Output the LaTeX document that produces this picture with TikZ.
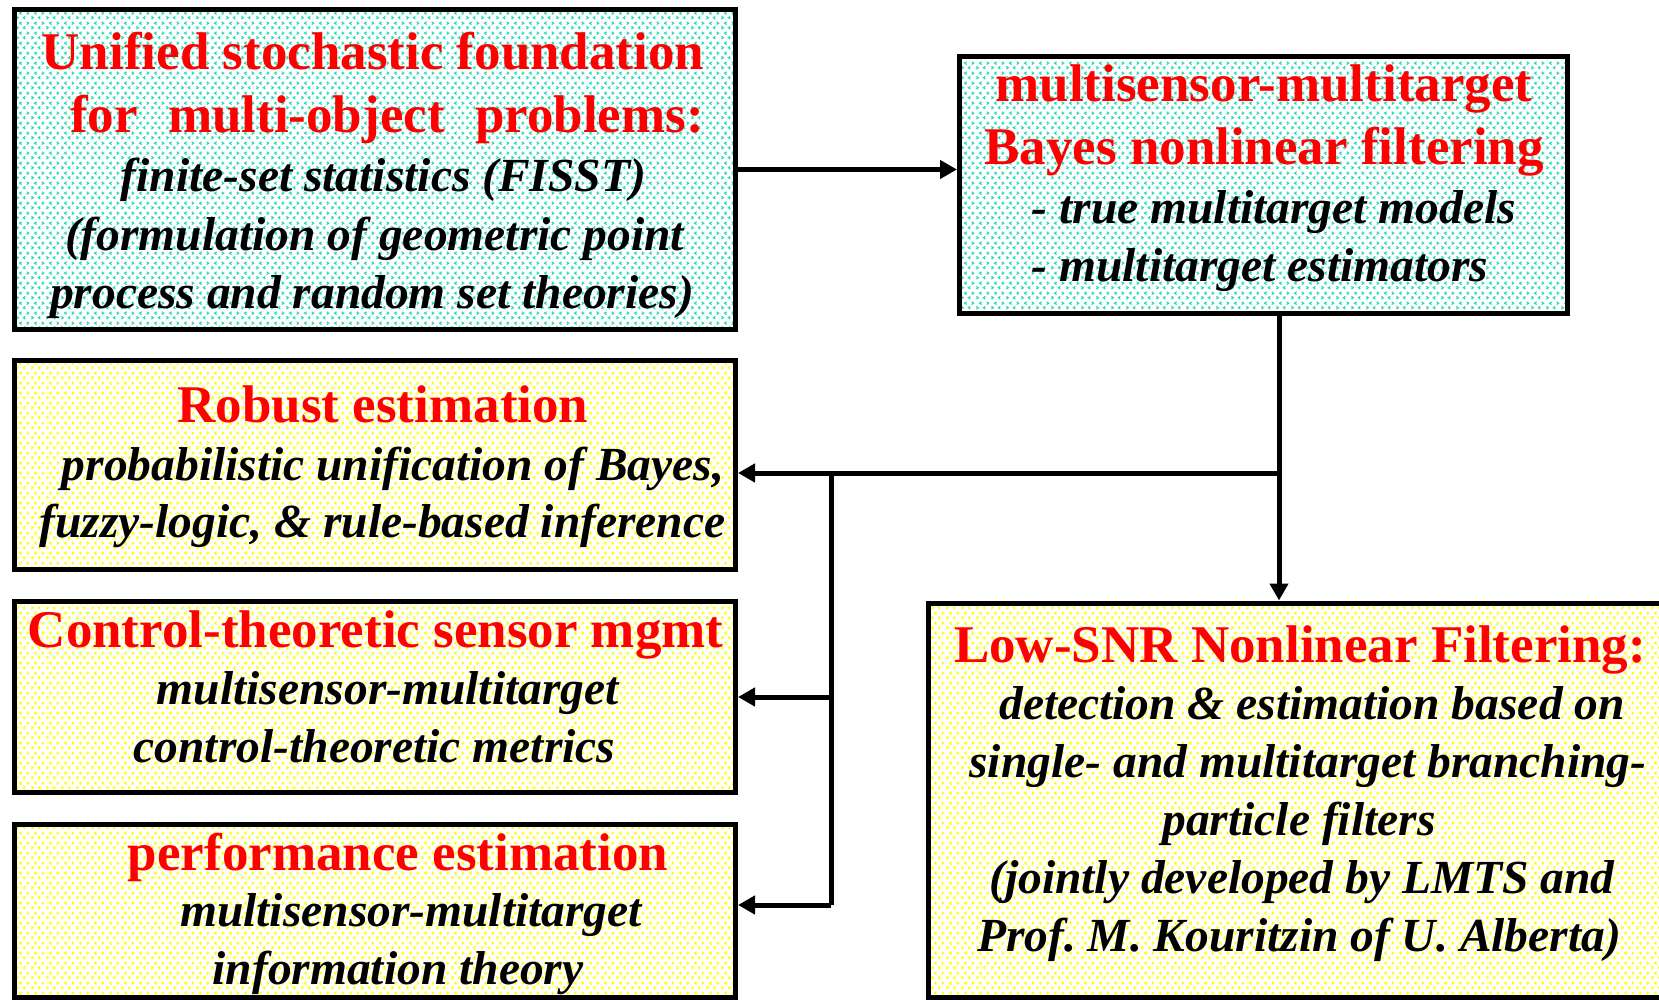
\documentclass[tikz,border=0pt]{standalone}
\usepackage{fontspec}
\setmainfont{Liberation Serif}
\usetikzlibrary{arrows.meta,patterns}

% fine texture of small chevrons used inside the boxes
\pgfdeclarepatternformonly{chevrons}{\pgfqpoint{0pt}{0pt}}{\pgfqpoint{15pt}{10pt}}{\pgfqpoint{15pt}{10pt}}{%
  \pgfsetlinewidth{1.3pt}%
  \pgfpathmoveto{\pgfqpoint{1.5pt}{1pt}}\pgfpathlineto{\pgfqpoint{3.5pt}{2.5pt}}\pgfpathlineto{\pgfqpoint{1.5pt}{4pt}}%
  \pgfpathmoveto{\pgfqpoint{11pt}{1pt}}\pgfpathlineto{\pgfqpoint{9pt}{2.5pt}}\pgfpathlineto{\pgfqpoint{11pt}{4pt}}%
  \pgfpathmoveto{\pgfqpoint{7pt}{6pt}}\pgfpathlineto{\pgfqpoint{5pt}{7.5pt}}\pgfpathlineto{\pgfqpoint{7pt}{9pt}}%
  \pgfpathmoveto{\pgfqpoint{12.5pt}{6pt}}\pgfpathlineto{\pgfqpoint{14.5pt}{7.5pt}}\pgfpathlineto{\pgfqpoint{12.5pt}{9pt}}%
  \pgfusepath{stroke}}

\definecolor{headred}{RGB}{255,0,0}
\definecolor{mintmark}{RGB}{40,220,185}
\definecolor{yellowmark}{RGB}{255,255,0}

\begin{document}
\frenchspacing
\begin{tikzpicture}[x=1pt,y=-1pt,
  box/.style={draw=black, line width=5pt, rectangle, inner sep=0pt, pattern=chevrons},
  cyanbox/.style={box, pattern color=mintmark},
  yellowbox/.style={box, pattern color=yellowmark},
  head/.style={anchor=base, inner sep=0pt, text=headred, font=\fontsize{53}{53}\selectfont\bfseries},
  body/.style={anchor=base, inner sep=0pt, text=black, font=\fontsize{47.5}{47.5}\selectfont\bfseries\itshape},
  link/.style={line width=5pt},
  arrowlink/.style={link, -{Triangle[length=17pt,width=18pt]}}
]
\useasboundingbox (0,0) rectangle (1659,1000);

% boxes
\node[cyanbox, minimum width=721pt, minimum height=320pt] (fisst) at (375,169.5) {};
\node[cyanbox, minimum width=608pt, minimum height=257pt] (bayes) at (1263.5,185) {};
\node[yellowbox, minimum width=721pt, minimum height=209pt] (robust) at (375,465) {};
\node[yellowbox, minimum width=721pt, minimum height=191pt] (control) at (375,697) {};
\node[yellowbox, minimum width=721pt, minimum height=173pt] (perf) at (375,911) {};
\node[yellowbox, minimum width=734pt, minimum height=394.5pt] (snr) at (1295,800.25) {};

% texts: finite-set statistics
\node[head] (fisstA) at (373,70) {Unified stochastic foundation};
\node[head] (fisstB) at (387,133) {for\hspace{17pt} multi-object\hspace{17pt} problems:};
\node[body] (fisstC) at (383.5,192) {finite-set statistics (FISST)};
\node[body] (fisstD) at (374.5,251) {(formulation of geometric point};
\node[body] (fisstE) at (372,308) {process and random set theories)};

% texts: Bayes filtering
\node[head] (bayesA) at (1264,102) {multisensor-multitarget};
\node[head] (bayesB) at (1264,165) {Bayes nonlinear filtering};
\node[body, anchor=base west] (bayesC) at (1031.5,224) {- true multitarget models};
\node[body, anchor=base west] (bayesD) at (1031.5,282) {- multitarget estimators};

% texts: robust estimation
\node[head] (robustA) at (383,422) {Robust estimation};
\node[body] (robustB) at (393,480) {probabilistic unification of Bayes,};
\node[body] (robustC) at (382.5,537) {fuzzy-logic, \& rule-based inference};

% texts: sensor management
\node[head] (controlA) at (375.6,647) {Control-theoretic sensor mgmt};
\node[body] (controlB) at (387.8,704) {multisensor-multitarget};
\node[body] (controlC) at (374.5,762) {control-theoretic metrics};

% texts: performance estimation
\node[head] (perfA) at (398,870) {performance estimation};
\node[body] (perfB) at (411,926) {multisensor-multitarget};
\node[body] (perfC) at (398,984) {information theory};

% texts: low-SNR filtering
\node[head] (snrA) at (1300,662) {Low-SNR Nonlinear Filtering:};
\node[body] (snrB) at (1312,719) {detection \& estimation based on};
\node[body] (snrC) at (1308,777) {single- and multitarget branching-};
\node[body] (snrD) at (1299,835) {particle filters};
\node[body] (snrE) at (1302,893) {(jointly developed by LMTS and};
\node[body] (snrF) at (1299,951) {Prof. M. Kouritzin of U. Alberta)};

% connectors
\coordinate (split) at (1279,473);
\coordinate (bus) at (831,473);
\coordinate (busend) at (831,905);

\draw[arrowlink] (fisst.east) -- (fisst.east -| bayes.west);
\draw[link] (split |- bayes.south) -- (split);
\draw[arrowlink] (split) -- (split |- snr.north);
\draw[arrowlink] (split) -- (split -| robust.east);
\draw[link] (bus) -- (busend);
\draw[arrowlink] (bus |- control.east) -- (control.east);
\draw[arrowlink] (busend) -- (busend -| perf.east);
\end{tikzpicture}
\end{document}
